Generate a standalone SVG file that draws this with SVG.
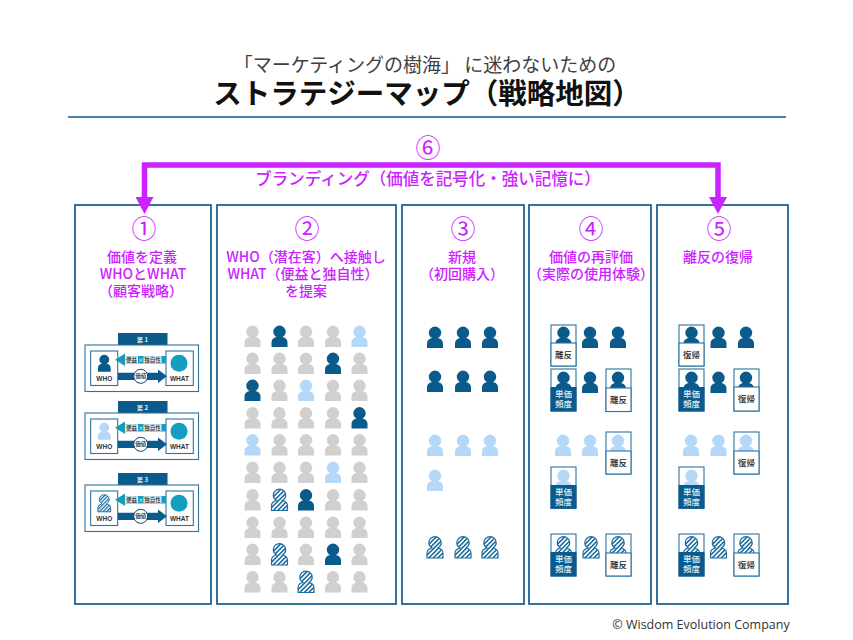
<svg xmlns="http://www.w3.org/2000/svg" width="853" height="640" viewBox="0 0 853 640">
<style>
text{font-family:"Noto Sans CJK JP","Liberation Sans",sans-serif;text-anchor:middle}
.panel{fill:#fff;stroke:#1f6491;stroke-width:1.8}
.num{font-size:25px;fill:#cc22ff;font-weight:400}
.lab{font-size:14px;fill:#cc22ff;font-weight:500}
.g{fill:#d0d0d0}.d{fill:#0a5a8c}.l{fill:#b5d8f8}.h{fill:url(#hatch);stroke:#1f6f9f;stroke-width:1.2}
.box{fill:#fff;stroke:#2d739f;stroke-width:1.1}
.fillbox{fill:#0a5a8c}
.t8{font-size:8.5px;fill:#222;font-weight:500}
.t8w{font-size:8.5px;fill:#dfeaf2;font-weight:500}
.cap{font-size:6.5px;fill:#333;font-weight:700;font-family:"Liberation Sans",sans-serif}
.hd{font-size:6px;fill:#e6eff5;font-weight:700}
.tiny{font-size:5.500px;fill:#222;font-weight:500}
.conn{fill:none;stroke:#cc22ff;stroke-width:5.5}
</style>
<defs>
<pattern id="hatch" width="3.200" height="3.200" patternUnits="userSpaceOnUse" patternTransform="rotate(45)">
<rect width="3.200" height="3.200" fill="#fff"/><rect width="1.600" height="3.200" fill="#1f6f9f"/>
</pattern>
<path id="p" d="M-8 21v-4.500q0-4.500 5-5.500q-3.200-2-3.200-5.200a6.200 6.200 0 0 1 12.400 0q0 3.200-3.200 5.200q5 1 5 5.500v4.500z"/>
<marker id="ah" markerUnits="userSpaceOnUse" markerWidth="17" markerHeight="18" viewBox="0 0 17 18" refX="0" refY="9" orient="auto-start-reverse">
<path d="M0 0L17 9L0 18z" fill="#cc22ff"/>
</marker>
<g id="card">
<rect x="118" y="333" width="49.500" height="12" class="fillbox"/>
<rect x="85" y="345" width="113.500" height="46.500" class="box"/>
<rect x="90.700" y="351" width="27" height="34.500" class="box"/>
<rect x="166" y="351" width="27.300" height="34.500" class="box"/>
<circle cx="179" cy="363.300" r="8.500" fill="#159dc0"/>
<text x="104.300" y="380.500" class="cap">WHO</text>
<text x="179.500" y="380.500" class="cap">WHAT</text>
<path d="M115 359.700L125 353.500V356H166V363.500H125V366z" fill="#159dc0"/>
<rect x="125" y="356.300" width="13" height="7" fill="#e8f2f6"/>
<rect x="143.500" y="356.300" width="18" height="7" fill="#e8f2f6"/>
<text x="131.500" y="362" class="tiny">便益</text>
<text x="140.700" y="362" class="tiny" style="fill:#fff">×</text>
<text x="152.500" y="362" class="tiny">独自性</text>
<path d="M118 372.700H158V369.500L167 376.300L158 383V380H118z" fill="#0a5a8c"/>
<circle cx="140.700" cy="376.300" r="7" fill="#fff" stroke="#123c5c" stroke-width="1"/>
<text x="140.700" y="378.300" class="tiny">価値</text>
</g>
</defs>
<rect width="853" height="640" fill="#fff"/>
<g id="title">
<text x="425" y="72" font-size="19" fill="#404040">「マーケティングの樹海」 に迷わないための</text>
<text x="427" y="104" font-size="28.500" font-weight="700" fill="#111">ストラテジーマップ（戦略地図）</text>
<line x1="68" y1="117" x2="786" y2="117" stroke="#0a5a8c" stroke-width="1.500"/>
</g>
<g id="branding">
<text x="428" y="157" class="num">⑥</text>
<text x="428" y="185" font-size="16.500" fill="#cc22ff" font-weight="500">ブランディング（価値を記号化・強い記憶に）</text>
</g>
<g id="panel1">
<rect x="75" y="205" width="136" height="399" class="panel"/>
<text x="144" y="238" class="num">①</text>
<text x="142" y="262" class="lab">価値を定義</text>
<text x="143" y="279" class="lab">WHOとWHAT</text>
<text x="141" y="296" class="lab">（顧客戦略）</text>
<g id="card1"><use href="#card"/><text x="142.500" y="341.500" class="hd">第 1</text><use href="#p" class="d" transform="translate(104.300 355) scale(.8)"/></g>
<g id="card2" transform="translate(0 68)"><use href="#card"/><text x="142.500" y="341.500" class="hd">第 2</text><use href="#p" class="l" transform="translate(104.300 355) scale(.8)"/></g>
<g id="card3" transform="translate(0 140)"><use href="#card"/><text x="142.500" y="341.500" class="hd">第 3</text><use href="#p" class="h" transform="translate(104.300 355) scale(.8)"/></g>
</g>
<g id="panel2">
<rect x="217" y="205" width="179" height="399" class="panel"/>
<text x="307" y="238" class="num">②</text>
<text x="306" y="262" class="lab">WHO（潜在客）へ接触し</text>
<text x="303" y="279" class="lab">WHAT（便益と独自性）</text>
<text x="306" y="296" class="lab">を提案</text>
<use href="#p" class="g" x="252.500" y="326"/><use href="#p" class="d" x="279.500" y="326"/><use href="#p" class="g" x="306" y="326"/><use href="#p" class="g" x="333" y="326"/><use href="#p" class="l" x="359.500" y="326"/>
<use href="#p" class="g" x="252.500" y="353"/><use href="#p" class="g" x="279.500" y="353"/><use href="#p" class="g" x="306" y="353"/><use href="#p" class="d" x="333" y="353"/><use href="#p" class="g" x="359.500" y="353"/>
<use href="#p" class="d" x="252.500" y="380"/><use href="#p" class="g" x="279.500" y="380"/><use href="#p" class="l" x="306" y="380"/><use href="#p" class="g" x="333" y="380"/><use href="#p" class="g" x="359.500" y="380"/>
<use href="#p" class="g" x="252.500" y="407.500"/><use href="#p" class="g" x="279.500" y="407.500"/><use href="#p" class="g" x="306" y="407.500"/><use href="#p" class="g" x="333" y="407.500"/><use href="#p" class="d" x="359.500" y="407.500"/>
<use href="#p" class="l" x="252.500" y="434.500"/><use href="#p" class="g" x="279.500" y="434.500"/><use href="#p" class="g" x="306" y="434.500"/><use href="#p" class="g" x="333" y="434.500"/><use href="#p" class="g" x="359.500" y="434.500"/>
<use href="#p" class="g" x="252.500" y="462"/><use href="#p" class="g" x="279.500" y="462"/><use href="#p" class="g" x="306" y="462"/><use href="#p" class="l" x="333" y="462"/><use href="#p" class="g" x="359.500" y="462"/>
<use href="#p" class="g" x="252.500" y="489.500"/><use href="#p" class="h" x="279.500" y="489.500"/><use href="#p" class="d" x="306" y="489.500"/><use href="#p" class="g" x="333" y="489.500"/><use href="#p" class="g" x="359.500" y="489.500"/>
<use href="#p" class="g" x="252.500" y="517"/><use href="#p" class="g" x="279.500" y="517"/><use href="#p" class="g" x="306" y="517"/><use href="#p" class="g" x="333" y="517"/><use href="#p" class="g" x="359.500" y="517"/>
<use href="#p" class="g" x="252.500" y="544"/><use href="#p" class="h" x="279.500" y="544"/><use href="#p" class="g" x="306" y="544"/><use href="#p" class="d" x="333" y="544"/><use href="#p" class="g" x="359.500" y="544"/>
<use href="#p" class="g" x="252.500" y="571.500"/><use href="#p" class="g" x="279.500" y="571.500"/><use href="#p" class="h" x="306" y="571.500"/><use href="#p" class="g" x="333" y="571.500"/><use href="#p" class="g" x="359.500" y="571.500"/>
</g>
<g id="panel3">
<rect x="402" y="205" width="122" height="399" class="panel"/>
<text x="463" y="238" class="num">③</text>
<text x="462" y="262" class="lab">新規</text>
<text x="462" y="279" class="lab">（初回購入）</text>
<use href="#p" class="d" x="435" y="327"/><use href="#p" class="d" x="463" y="327"/><use href="#p" class="d" x="490" y="327"/>
<use href="#p" class="d" x="435" y="371"/><use href="#p" class="d" x="463" y="371"/><use href="#p" class="d" x="490" y="371"/>
<use href="#p" class="l" x="435" y="435"/><use href="#p" class="l" x="463" y="435"/><use href="#p" class="l" x="490" y="435"/>
<use href="#p" class="l" x="435" y="470"/>
<use href="#p" class="h" x="435" y="537"/><use href="#p" class="h" x="463" y="537"/><use href="#p" class="h" x="490" y="537"/>
</g>
<g id="panel4">
<rect x="529" y="205" width="122" height="399" class="panel"/>
<text x="591" y="238" class="num">④</text>
<text x="591" y="262" class="lab">価値の再評価</text>
<text x="591" y="279" class="lab">（実際の使用体験）</text>
<rect x="551" y="325" width="25" height="41" class="box"/><use href="#p" class="d" x="563.500" y="327"/>
<rect x="551" y="343" width="25" height="23" class="box"/><text x="563.500" y="357.500" class="t8">離反</text>
<use href="#p" class="d" x="590" y="327"/><use href="#p" class="d" x="618" y="327"/>
<rect x="551" y="369" width="25" height="42" class="box"/><use href="#p" class="d" x="563.500" y="372"/>
<rect x="550.500" y="387" width="26" height="24.500" class="fillbox"/>
<text x="563.500" y="397" class="t8w">単価</text><text x="563.500" y="407" class="t8w">頻度</text>
<use href="#p" class="d" x="590" y="372"/>
<rect x="606" y="369" width="25" height="42.500" class="box"/><use href="#p" class="d" x="618" y="372"/>
<rect x="606" y="388" width="25" height="23.500" class="box"/><text x="618.500" y="403" class="t8">離反</text>
<use href="#p" class="l" x="563" y="435"/><use href="#p" class="l" x="590" y="435"/>
<rect x="606" y="432" width="25" height="42" class="box"/><use href="#p" class="l" x="618" y="435"/>
<rect x="606" y="451" width="25" height="23" class="box"/><text x="618.500" y="466" class="t8">離反</text>
<rect x="551" y="467" width="25" height="41.500" class="box"/><use href="#p" class="l" x="563.500" y="470"/>
<rect x="550.500" y="485" width="26" height="23.500" class="fillbox"/>
<text x="563.500" y="495" class="t8w">単価</text><text x="563.500" y="505" class="t8w">頻度</text>
<rect x="551" y="534" width="25" height="42" class="box"/><use href="#p" class="h" x="563.500" y="537"/>
<rect x="550.500" y="552" width="26" height="24.500" class="fillbox"/>
<text x="563.500" y="562" class="t8w">単価</text><text x="563.500" y="572" class="t8w">頻度</text>
<use href="#p" class="h" x="591" y="537"/>
<rect x="606" y="534" width="25" height="42" class="box"/><use href="#p" class="h" x="618" y="537"/>
<rect x="606" y="553" width="25" height="23" class="box"/><text x="618.500" y="568" class="t8">離反</text>
</g>
<g id="panel5">
<rect x="657" y="205" width="131" height="399" class="panel"/>
<text x="719" y="238" class="num">⑤</text>
<text x="718" y="262" class="lab">離反の復帰</text>
<rect x="679" y="325" width="25" height="41" class="box"/><use href="#p" class="d" x="691.500" y="327"/>
<rect x="679" y="343" width="25" height="23" class="box"/><text x="691.500" y="357.500" class="t8">復帰</text>
<use href="#p" class="d" x="718.500" y="327"/><use href="#p" class="d" x="746" y="327"/>
<rect x="679" y="369" width="25" height="42" class="box"/><use href="#p" class="d" x="691.500" y="372"/>
<rect x="678.500" y="387" width="26" height="24.500" class="fillbox"/>
<text x="691.500" y="397" class="t8w">単価</text><text x="691.500" y="407" class="t8w">頻度</text>
<use href="#p" class="d" x="718.500" y="372"/>
<rect x="734" y="369" width="25" height="42" class="box"/><use href="#p" class="d" x="746" y="372"/>
<rect x="734" y="387" width="25" height="24" class="box"/><text x="746.500" y="402" class="t8">復帰</text>
<use href="#p" class="l" x="691" y="435"/><use href="#p" class="l" x="718.500" y="435"/>
<rect x="734" y="432" width="25" height="42" class="box"/><use href="#p" class="l" x="746" y="435"/>
<rect x="734" y="451" width="25" height="23" class="box"/><text x="746.500" y="466" class="t8">復帰</text>
<rect x="679" y="467" width="25" height="41.500" class="box"/><use href="#p" class="l" x="691.500" y="470"/>
<rect x="678.500" y="485" width="26" height="23.500" class="fillbox"/>
<text x="691.500" y="495" class="t8w">単価</text><text x="691.500" y="505" class="t8w">頻度</text>
<rect x="679" y="534" width="25" height="42" class="box"/><use href="#p" class="h" x="691.500" y="537"/>
<rect x="678.500" y="552" width="26" height="24.500" class="fillbox"/>
<text x="691.500" y="562" class="t8w">単価</text><text x="691.500" y="572" class="t8w">頻度</text>
<use href="#p" class="h" x="718.500" y="537"/>
<rect x="734" y="534" width="25" height="42" class="box"/><use href="#p" class="h" x="746" y="537"/>
<rect x="734" y="553" width="25" height="23" class="box"/><text x="746.500" y="568" class="t8">復帰</text>
</g>
<g id="connectors">
<path class="conn" d="M144.500 197V165H718V197" marker-start="url(#ah)" marker-end="url(#ah)"/>
</g>
<g id="footer">
<text x="701" y="629" font-size="12.500" fill="#333" style="font-family:'Open Sans',sans-serif">© Wisdom Evolution Company</text>
</g>
</svg>
